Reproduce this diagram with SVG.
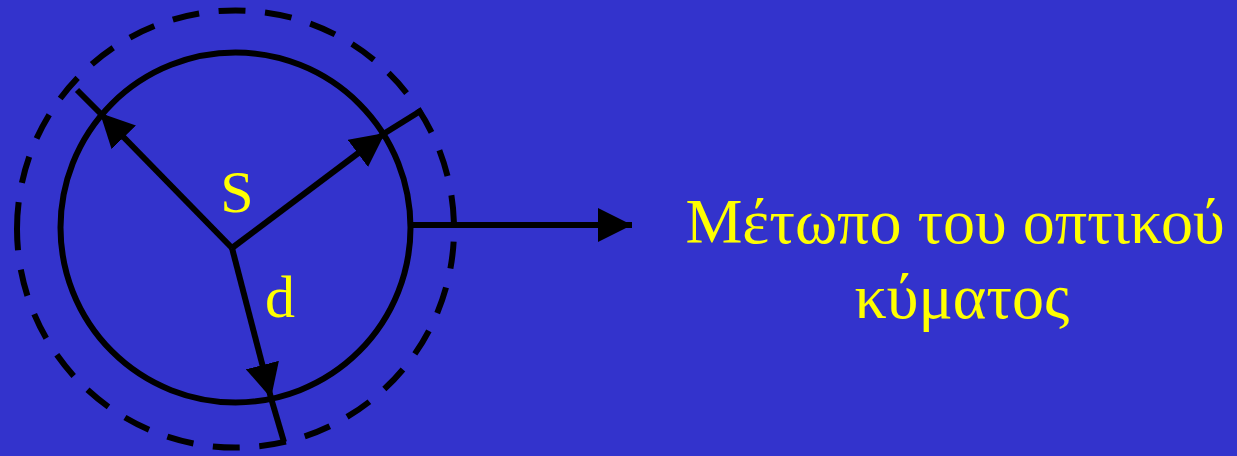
<svg xmlns="http://www.w3.org/2000/svg" width="1237" height="456" viewBox="0 0 1237 456">
<defs>
<style>
.ln{stroke:#000;stroke-width:6;fill:none}
.lab{font-family:"Liberation Serif","Times New Roman",serif;fill:#FFFF00}
</style>
<marker id="ah" markerUnits="userSpaceOnUse" markerWidth="34" markerHeight="34" refX="34" refY="17" orient="auto" viewBox="0 0 34 34">
<path d="M0,0 L34,17 L0,34 z" fill="#000"/>
</marker>
</defs>
<rect width="1237" height="456" fill="#3333CC"/>
<g id="wavefront-outer">
<path class="ln" stroke-dasharray="27 19.6" d="M17,229 A218.5,218.5 0 1 1 454,229 A218.5,218.5 0 1 1 17,229"/>
</g>
<g id="wavefront-inner">
<circle cx="235.5" cy="227.5" r="175" class="ln"/>
</g>
<g id="connectors">
<path class="ln" d="M232,248 L100,113" marker-end="url(#ah)"/>
<path class="ln" d="M100,113 L77,90"/>
<path class="ln" d="M232,248 L385,133" marker-end="url(#ah)"/>
<path class="ln" d="M385,133 L422,110"/>
<path class="ln" d="M232,248 L271,398" marker-end="url(#ah)"/>
<path class="ln" d="M271,398 L284,442"/>
<path class="ln" d="M411,225 L632,225" marker-end="url(#ah)"/>
</g>
<g id="label-S"><text class="lab" x="237" y="212" font-size="60" text-anchor="middle">S</text></g>
<g id="label-d"><text class="lab" x="280" y="317" font-size="60" text-anchor="middle">d</text></g>
<g id="label-wavefront">
<text class="lab" font-size="64" text-anchor="middle"><tspan x="955" y="243">Μέτωπο του οπτικού</tspan><tspan x="962" y="318">κύματος</tspan></text>
</g>
</svg>
